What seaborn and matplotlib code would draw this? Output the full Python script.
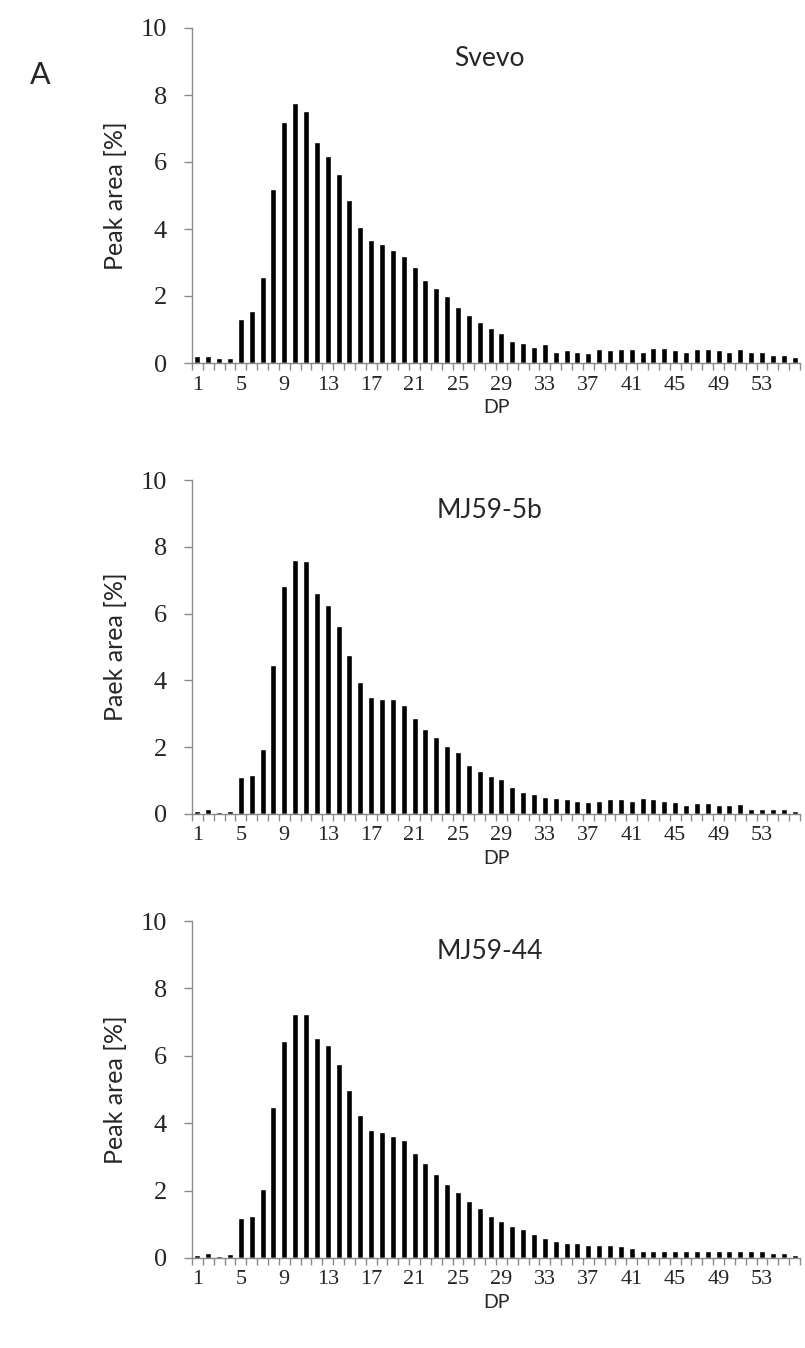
import numpy as np
import pandas as pd
import matplotlib
matplotlib.use("Agg")
import matplotlib.pyplot as plt
import seaborn as sns

# Degree of polymerisation (DP) classes
dp = list(range(1, 57))

# Relative peak area [%] for each genotype
svevo = [0.21, 0.21, 0.16, 0.16, 1.32, 1.54, 2.56, 5.20, 7.20, 7.75,
         7.52, 6.60, 6.18, 5.63, 4.88, 4.06, 3.66, 3.56, 3.38, 3.18,
         2.88, 2.48, 2.24, 2.00, 1.67, 1.44, 1.21, 1.04, 0.89, 0.67,
         0.59, 0.49, 0.56, 0.34, 0.39, 0.32, 0.31, 0.41, 0.39, 0.41,
         0.41, 0.34, 0.44, 0.44, 0.39, 0.34, 0.41, 0.41, 0.39, 0.34,
         0.41, 0.34, 0.34, 0.24, 0.24, 0.19]
mj59_5b = [0.10, 0.15, 0.07, 0.10, 1.11, 1.16, 1.96, 4.47, 6.82, 7.61,
           7.56, 6.62, 6.27, 5.63, 4.76, 3.94, 3.51, 3.44, 3.44, 3.27,
           2.88, 2.55, 2.32, 2.05, 1.85, 1.46, 1.28, 1.13, 1.06, 0.81,
           0.66, 0.61, 0.51, 0.47, 0.44, 0.40, 0.37, 0.40, 0.44, 0.44,
           0.40, 0.47, 0.45, 0.40, 0.37, 0.27, 0.32, 0.34, 0.27, 0.27,
           0.30, 0.14, 0.14, 0.14, 0.14, 0.10]
mj59_44 = [0.10, 0.15, 0.07, 0.12, 1.18, 1.24, 2.04, 4.47, 6.44, 7.23,
           7.23, 6.54, 6.31, 5.75, 5.00, 4.24, 3.81, 3.74, 3.61, 3.50,
           3.12, 2.82, 2.49, 2.19, 1.96, 1.70, 1.47, 1.24, 1.10, 0.95,
           0.85, 0.72, 0.60, 0.50, 0.45, 0.45, 0.40, 0.40, 0.40, 0.36,
           0.30, 0.22, 0.22, 0.22, 0.22, 0.22, 0.22, 0.22, 0.22, 0.22,
           0.22, 0.22, 0.22, 0.15, 0.15, 0.10]

titles = ["Svevo", "MJ59-5b", "MJ59-44"]
ylabels = ["Peak area [%]", "Paek area [%]", "Peak area [%]"]
series = [svevo, mj59_5b, mj59_44]

xtick_labels = [str(v) for v in range(1, 54, 4)]
yticks = [0, 2, 4, 6, 8, 10]

sns.set_style("white")
sans = ["Lato", "DejaVu Sans"]
serif = ["Liberation Serif", "DejaVu Serif"]
plt.rcParams["font.family"] = sans

W, H = 805, 1348
fig = plt.figure(figsize=(W / 100, H / 100), dpi=100)

# axes boxes in pixel rows (top, bottom)
boxes = [(28, 363), (480, 814), (921, 1258)]
left_px, right_px = 192, 800
axis_grey = "#8a8a8a"

for (top, bottom), title, ylab, vals in zip(boxes, titles, ylabels, series):
    ax = fig.add_axes([left_px / W, 1 - bottom / H,
                       (right_px - left_px) / W, (bottom - top) / H])
    df = pd.DataFrame({"DP": dp, "area": vals})
    sns.barplot(data=df, x="DP", y="area", color="black", width=0.55,
                saturation=1, ax=ax, order=dp)
    ax.set_xlim(-0.5, len(dp) - 0.5)
    ax.set_ylim(0, 10)

    for s in ["top", "right"]:
        ax.spines[s].set_visible(False)
    for s in ["left", "bottom"]:
        ax.spines[s].set_color(axis_grey)
        ax.spines[s].set_linewidth(1.0)

    ax.set_yticks(yticks)
    ax.set_yticklabels([str(v) for v in yticks], family=serif, fontsize=19)
    ax.tick_params(axis="y", left=True, length=6, width=1,
                   color=axis_grey, pad=12)

    label_pos = [dp.index(int(t)) for t in xtick_labels]
    ax.set_xticks(label_pos)
    ax.set_xticklabels(xtick_labels, family=serif, fontsize=16)
    ax.tick_params(axis="x", which="major", bottom=True, length=0, pad=9)
    ax.set_xticks(np.arange(len(dp) + 1) - 0.5, minor=True)
    ax.tick_params(axis="x", which="minor", bottom=True, length=5, width=1,
                   color=axis_grey, direction="out")

    ax.set_xlabel("DP", fontsize=14, labelpad=3)
    ax.set_ylabel(ylab, fontsize=18, labelpad=10)
    ax.text(0.49, 0.91, title, transform=ax.transAxes, ha="center",
            va="center", fontsize=19)

fig.text(40 / W, 1 - 75 / H, "A", fontsize=22, ha="center", va="center")

fig.savefig("out.png", dpi=100, facecolor="white")
